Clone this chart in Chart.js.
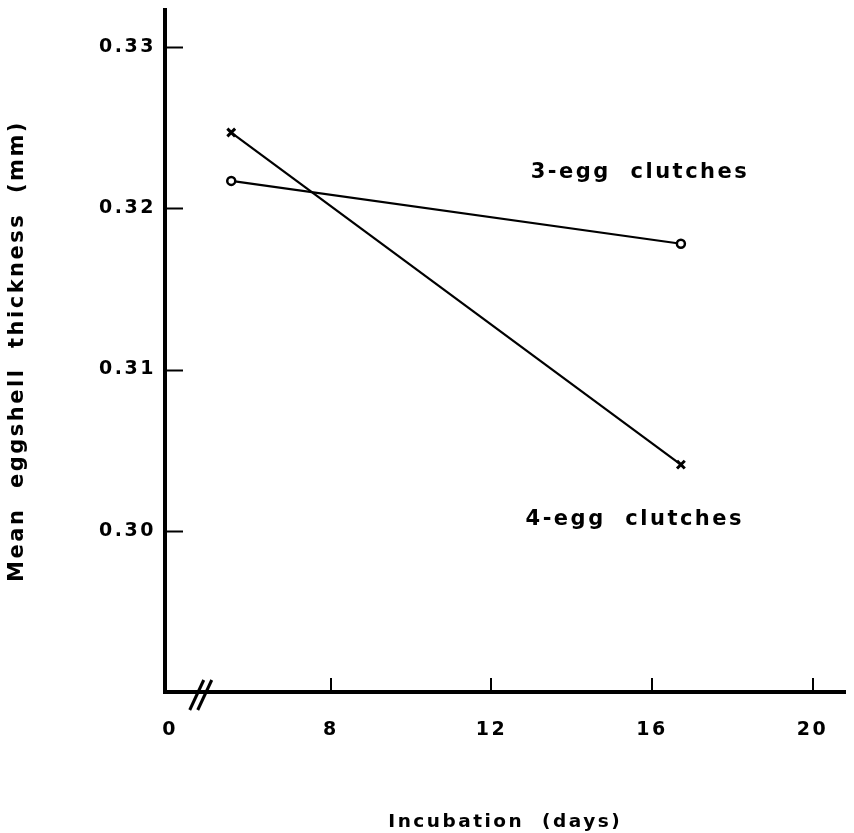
<!DOCTYPE html>
<html>
<head>
<meta charset="utf-8">
<script src="https://cdn.jsdelivr.net/npm/chart.js@4.4.1/dist/chart.umd.min.js"></script>
<style>
  html, body { margin: 0; padding: 0; background: #fff; }
  #chart { display: block; }
</style>
</head>
<body>
<canvas id="chart" width="854" height="833"></canvas>
<script>
// x values are positions on the drawn (broken) axis; the axis tick at 4 is labelled "0"
const xTicks = [4, 8, 12, 16, 20];
const xTickLabels = ['0', '8', '12', '16', '20'];
const yTicks = [0.30, 0.31, 0.32, 0.33];

const threeEggX = [5.52, 16.72];
const threeEggY = [0.3217, 0.3178];
const fourEggX = [5.52, 16.72];
const fourEggY = [0.3247, 0.3041];

const seriesLabels = ['3-egg  clutches', '4-egg  clutches'];
const seriesLabelAt = [[12.98, 0.3222], [12.85, 0.3007]];
const breakAt = 4.76;

const toPoints = (xs, ys) => xs.map((x, i) => ({ x: x, y: ys[i] }));

const SPACING = '2.5px';
const LABEL_FONT = 'bold 21px "DejaVu Sans"';

const spacingPlugin = {
    id: 'spacing',
    beforeUpdate: (chart) => { chart.ctx.letterSpacing = SPACING; },
    beforeLayout: (chart) => { chart.ctx.letterSpacing = SPACING; },
    beforeDraw: (chart) => { chart.ctx.letterSpacing = SPACING; }
};

const decorPlugin = {
    id: 'decor',
    afterDraw: (chart) => {
        const ctx = chart.ctx;
        const xs = chart.scales.x;
        const ys = chart.scales.y;
        const area = chart.chartArea;
        ctx.save();
        ctx.strokeStyle = '#000';
        ctx.lineWidth = 2;
        // y ticks point inward
        yTicks.forEach(v => {
            const py = Math.round(ys.getPixelForValue(v)) + 0.5;
            ctx.beginPath();
            ctx.moveTo(area.left, py);
            ctx.lineTo(area.left + 18, py);
            ctx.stroke();
        });
        // x ticks point up, none at the broken origin
        xTicks.slice(1).forEach(v => {
            const px = Math.round(xs.getPixelForValue(v));
            ctx.beginPath();
            ctx.moveTo(px, area.bottom);
            ctx.lineTo(px, area.bottom - 14);
            ctx.stroke();
        });
        // axis break
        const bx = xs.getPixelForValue(breakAt);
        const by = area.bottom + 3;
        ctx.lineWidth = 3;
        [-4, 4].forEach(off => {
            ctx.beginPath();
            ctx.moveTo(bx + off - 7, by + 15);
            ctx.lineTo(bx + off + 7, by - 15);
            ctx.stroke();
        });
        // series labels
        ctx.fillStyle = '#000';
        ctx.font = LABEL_FONT;
        ctx.letterSpacing = SPACING;
        ctx.textAlign = 'left';
        ctx.textBaseline = 'middle';
        seriesLabels.forEach((t, i) => {
            ctx.fillText(t, xs.getPixelForValue(seriesLabelAt[i][0]), ys.getPixelForValue(seriesLabelAt[i][1]));
        });
        ctx.restore();
    }
};

new Chart(document.getElementById('chart'), {
    type: 'scatter',
    data: {
        datasets: [
            {
                label: '3-egg clutches',
                data: toPoints(threeEggX, threeEggY),
                showLine: true,
                borderColor: '#000',
                borderWidth: 2.2,
                pointStyle: 'circle',
                pointRadius: 4,
                pointBorderWidth: 2.5,
                pointBorderColor: '#000',
                pointBackgroundColor: '#fff'
            },
            {
                label: '4-egg clutches',
                data: toPoints(fourEggX, fourEggY),
                showLine: true,
                borderColor: '#000',
                borderWidth: 2.2,
                pointStyle: 'crossRot',
                pointRadius: 5.5,
                pointBorderWidth: 3,
                pointBorderColor: '#000',
                pointBackgroundColor: '#fff'
            }
        ]
    },
    options: {
        responsive: false,
        animation: false,
        layout: { padding: { top: 10, right: 3, left: 0, bottom: 0 } },
        plugins: {
            legend: { display: false },
            tooltip: { enabled: false }
        },
        scales: {
            x: {
                type: 'linear',
                min: 3.87,
                max: 20.82,
                afterBuildTicks: (scale) => { scale.ticks = xTicks.map(v => ({ value: v })); },
                afterFit: (scale) => {
                    scale.height = 141;
                    scale.paddingLeft = 0;
                    scale.paddingRight = 0;
                },
                grid: { display: false, drawTicks: false },
                border: { display: true, width: 4, color: '#000' },
                ticks: {
                    padding: 27,
                    color: '#000',
                    font: { family: '"DejaVu Sans"', weight: 'bold', size: 19 },
                    maxRotation: 0,
                    autoSkip: false,
                    callback: (value) => xTickLabels[xTicks.indexOf(value)]
                },
                title: {
                    display: true,
                    text: 'Incubation  (days)',
                    color: '#000',
                    font: { family: '"DejaVu Sans"', weight: 'bold', size: 18.5 },
                    padding: { top: 2, bottom: 0 }
                }
            },
            y: {
                type: 'linear',
                min: 0.29,
                max: 0.3323,
                afterBuildTicks: (scale) => { scale.ticks = yTicks.map(v => ({ value: v })); },
                afterFit: (scale) => {
                    scale.width = 165;
                    scale.paddingTop = 0;
                    scale.paddingBottom = 0;
                },
                grid: { display: false, drawTicks: false },
                border: { display: true, width: 4, color: '#000' },
                ticks: {
                    padding: 9,
                    color: '#000',
                    font: { family: '"DejaVu Sans"', weight: 'bold', size: 19 },
                    callback: (value) => value.toFixed(2)
                },
                title: {
                    display: true,
                    text: 'Mean  eggshell  thickness  (mm)',
                    color: '#000',
                    font: { family: '"DejaVu Sans"', weight: 'bold', size: 21 },
                    padding: { top: 5, bottom: 0 }
                }
            }
        }
    },
    plugins: [spacingPlugin, decorPlugin]
});
</script>
</body>
</html>
